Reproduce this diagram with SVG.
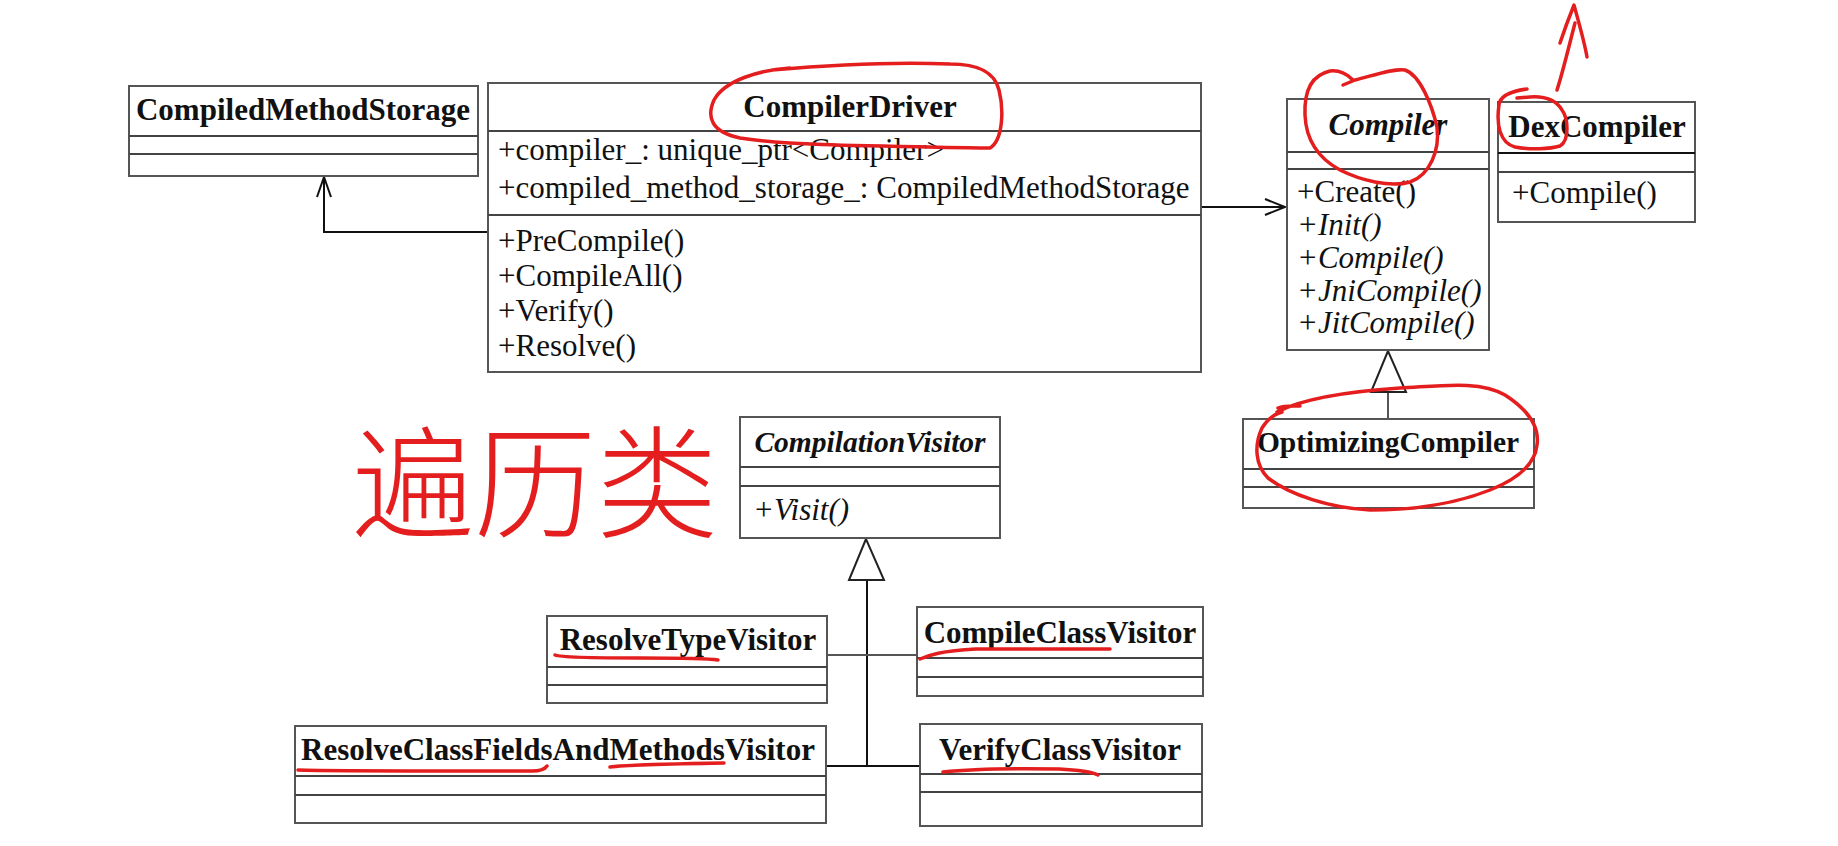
<svg xmlns="http://www.w3.org/2000/svg" width="1838" height="846" viewBox="0 0 1838 846">
<style>
.box{fill:#fff;stroke:#555;stroke-width:2}
.sep{stroke:#444;stroke-width:2}
.t{font-family:"Liberation Serif","Times New Roman",serif;font-size:31px;fill:#111}
.b{font-weight:bold}
.i{font-style:italic}
.m{text-anchor:middle}
.con{fill:none;stroke:#111;stroke-width:2}
.tri{fill:#fff;stroke:#222;stroke-width:2}
.red{fill:none;stroke:#e41e1e;stroke-width:3.5;stroke-linecap:round;stroke-linejoin:round}
</style>
<rect width="1838" height="846" fill="#fff"/>

<g id="connectors">
  <polyline class="con" points="488,232 324,232 324,177"/>
  <polyline class="con" points="317,197 324,177 331,197"/>
  <line class="con" x1="1201" y1="207" x2="1284" y2="207"/>
  <polyline class="con" points="1265,199 1285,207 1265,215"/>
  <line class="con" x1="1388" y1="392" x2="1388" y2="419" style="stroke:#555"/>
  <polygon class="tri" points="1388,351 1371,392 1406,392"/>
  <line class="con" x1="867" y1="580" x2="867" y2="766"/>
  <polygon class="tri" points="866,539 849,580 884,580"/>
  <line class="con" x1="827" y1="655" x2="917" y2="655" style="stroke:#555"/>
  <line class="con" x1="826" y1="766" x2="920" y2="766"/>
</g>

<g id="CompiledMethodStorage">
  <rect class="box" x="129" y="86" width="349" height="90"/>
  <line class="sep" x1="129" y1="136" x2="478" y2="136"/>
  <line class="sep" x1="129" y1="154" x2="478" y2="154"/>
  <text class="t b m" x="303" y="120">CompiledMethodStorage</text>
</g>

<g id="CompilerDriver">
  <rect class="box" x="488" y="83" width="713" height="289"/>
  <line class="sep" x1="488" y1="131" x2="1201" y2="131"/>
  <line class="sep" x1="488" y1="215" x2="1201" y2="215"/>
  <text class="t b m" x="850" y="117">CompilerDriver</text>
  <text class="t" x="498" y="160">+compiler_: unique_ptr&lt;Compiler&gt;</text>
  <text class="t" x="498" y="198">+compiled_method_storage_: CompiledMethodStorage</text>
  <text class="t" x="498" y="251">+PreCompile()</text>
  <text class="t" x="498" y="286">+CompileAll()</text>
  <text class="t" x="498" y="321">+Verify()</text>
  <text class="t" x="498" y="356">+Resolve()</text>
</g>

<g id="Compiler">
  <rect class="box" x="1287" y="99" width="202" height="251"/>
  <line class="sep" x1="1287" y1="152" x2="1489" y2="152"/>
  <line class="sep" x1="1287" y1="169" x2="1489" y2="169"/>
  <text class="t b i m" x="1388" y="135">Compiler</text>
  <text class="t" x="1297" y="202">+Create()</text>
  <text class="t i" x="1297" y="235">+Init()</text>
  <text class="t i" x="1297" y="268">+Compile()</text>
  <text class="t i" x="1297" y="301">+JniCompile()</text>
  <text class="t i" x="1297" y="333">+JitCompile()</text>
</g>

<g id="DexCompiler">
  <rect class="box" x="1498" y="102" width="197" height="120"/>
  <line class="sep" x1="1498" y1="153" x2="1695" y2="153" style="stroke:#111"/>
  <line class="sep" x1="1498" y1="172" x2="1695" y2="172"/>
  <text class="t b m" x="1597" y="137">DexCompiler</text>
  <text class="t" x="1512" y="203">+Compile()</text>
</g>

<g id="OptimizingCompiler">
  <rect class="box" x="1243" y="419" width="291" height="89"/>
  <line class="sep" x1="1243" y1="469" x2="1534" y2="469"/>
  <line class="sep" x1="1243" y1="487" x2="1534" y2="487"/>
  <text class="t b m" x="1388" y="452" style="font-size:29.5px">OptimizingCompiler</text>
</g>

<g id="CompilationVisitor">
  <rect class="box" x="740" y="417" width="260" height="121"/>
  <line class="sep" x1="740" y1="467" x2="1000" y2="467"/>
  <line class="sep" x1="740" y1="486" x2="1000" y2="486"/>
  <text class="t b i m" x="870" y="452" style="font-size:29.5px">CompilationVisitor</text>
  <text class="t i" x="753" y="520">+Visit()</text>
</g>

<g id="ResolveTypeVisitor">
  <rect class="box" x="547" y="616" width="280" height="87"/>
  <line class="sep" x1="547" y1="667" x2="827" y2="667"/>
  <line class="sep" x1="547" y1="685" x2="827" y2="685"/>
  <text class="t b m" x="688" y="650">ResolveTypeVisitor</text>
</g>

<g id="CompileClassVisitor">
  <rect class="box" x="917" y="607" width="286" height="89"/>
  <line class="sep" x1="917" y1="658" x2="1203" y2="658"/>
  <line class="sep" x1="917" y1="677" x2="1203" y2="677"/>
  <text class="t b m" x="1060" y="643">CompileClassVisitor</text>
</g>

<g id="ResolveClassFieldsAndMethodsVisitor">
  <rect class="box" x="295" y="726" width="531" height="97"/>
  <line class="sep" x1="295" y1="776" x2="826" y2="776"/>
  <line class="sep" x1="295" y1="795" x2="826" y2="795"/>
  <text class="t b m" x="558" y="760">ResolveClassFieldsAndMethodsVisitor</text>
</g>

<g id="VerifyClassVisitor">
  <rect class="box" x="920" y="724" width="282" height="102"/>
  <line class="sep" x1="920" y1="774" x2="1202" y2="774"/>
  <line class="sep" x1="920" y1="792" x2="1202" y2="792"/>
  <text class="t b m" x="1060" y="760">VerifyClassVisitor</text>
</g>

<g id="annotations">
  <path class="red" d="M790,68 C760,70 725,80 714,100 C706,118 712,132 740,138 C790,146 880,146 990,148 C1003,140 1004,110 999,90 C994,70 975,64 950,64 C900,62 840,64 772,70"/>
  <path class="red" d="M1343,85 L1355,80 C1375,75 1395,68 1405,70 C1420,75 1432,105 1437,127 C1440,150 1430,175 1410,182 C1390,188 1360,180 1340,170 C1318,158 1306,140 1305,115 C1304,90 1312,75 1330,71 C1340,70 1348,75 1353,80"/>
  <path class="red" d="M1527,89 C1512,91 1500,95 1499,105 C1496,125 1500,143 1515,147 C1530,150 1550,149 1560,146 C1570,140 1568,118 1562,110 C1556,100 1545,96 1530,97 L1517,98"/>
  <path class="red" d="M1557,90 C1562,75 1568,50 1575,23 M1560,43 C1565,28 1570,15 1574,5 C1578,20 1584,40 1587,57"/>
  <path class="red" d="M1278,408 C1285,405 1295,406 1300,406 M1277,412 C1300,400 1340,392 1400,388 C1440,386 1480,380 1505,395 C1525,408 1540,425 1537,445 C1535,465 1515,480 1490,490 C1460,502 1420,510 1370,510 C1330,508 1290,495 1268,478 C1255,465 1254,445 1262,428 C1268,418 1275,414 1282,412"/>
  <path class="red" d="M555,655 C560,657 600,658 640,658 C680,658 705,658 718,660"/>
  <path class="red" d="M920,659 C930,655 940,651 976,649 L1110,649"/>
  <path class="red" d="M298,770 C320,771 400,771 532,771 C540,771 545,769 547,766"/>
  <path class="red" d="M610,767 C625,765 660,764 724,763"/>
  <path class="red" d="M943,772 C970,769 1000,768 1059,769 C1080,770 1092,772 1098,775"/>
  <text x="352" y="528" style="font-family:'Noto Sans CJK SC','Noto Sans CJK JP',sans-serif;font-size:122px;font-weight:300;fill:#e41e1e">遍历类</text>
</g>
</svg>
